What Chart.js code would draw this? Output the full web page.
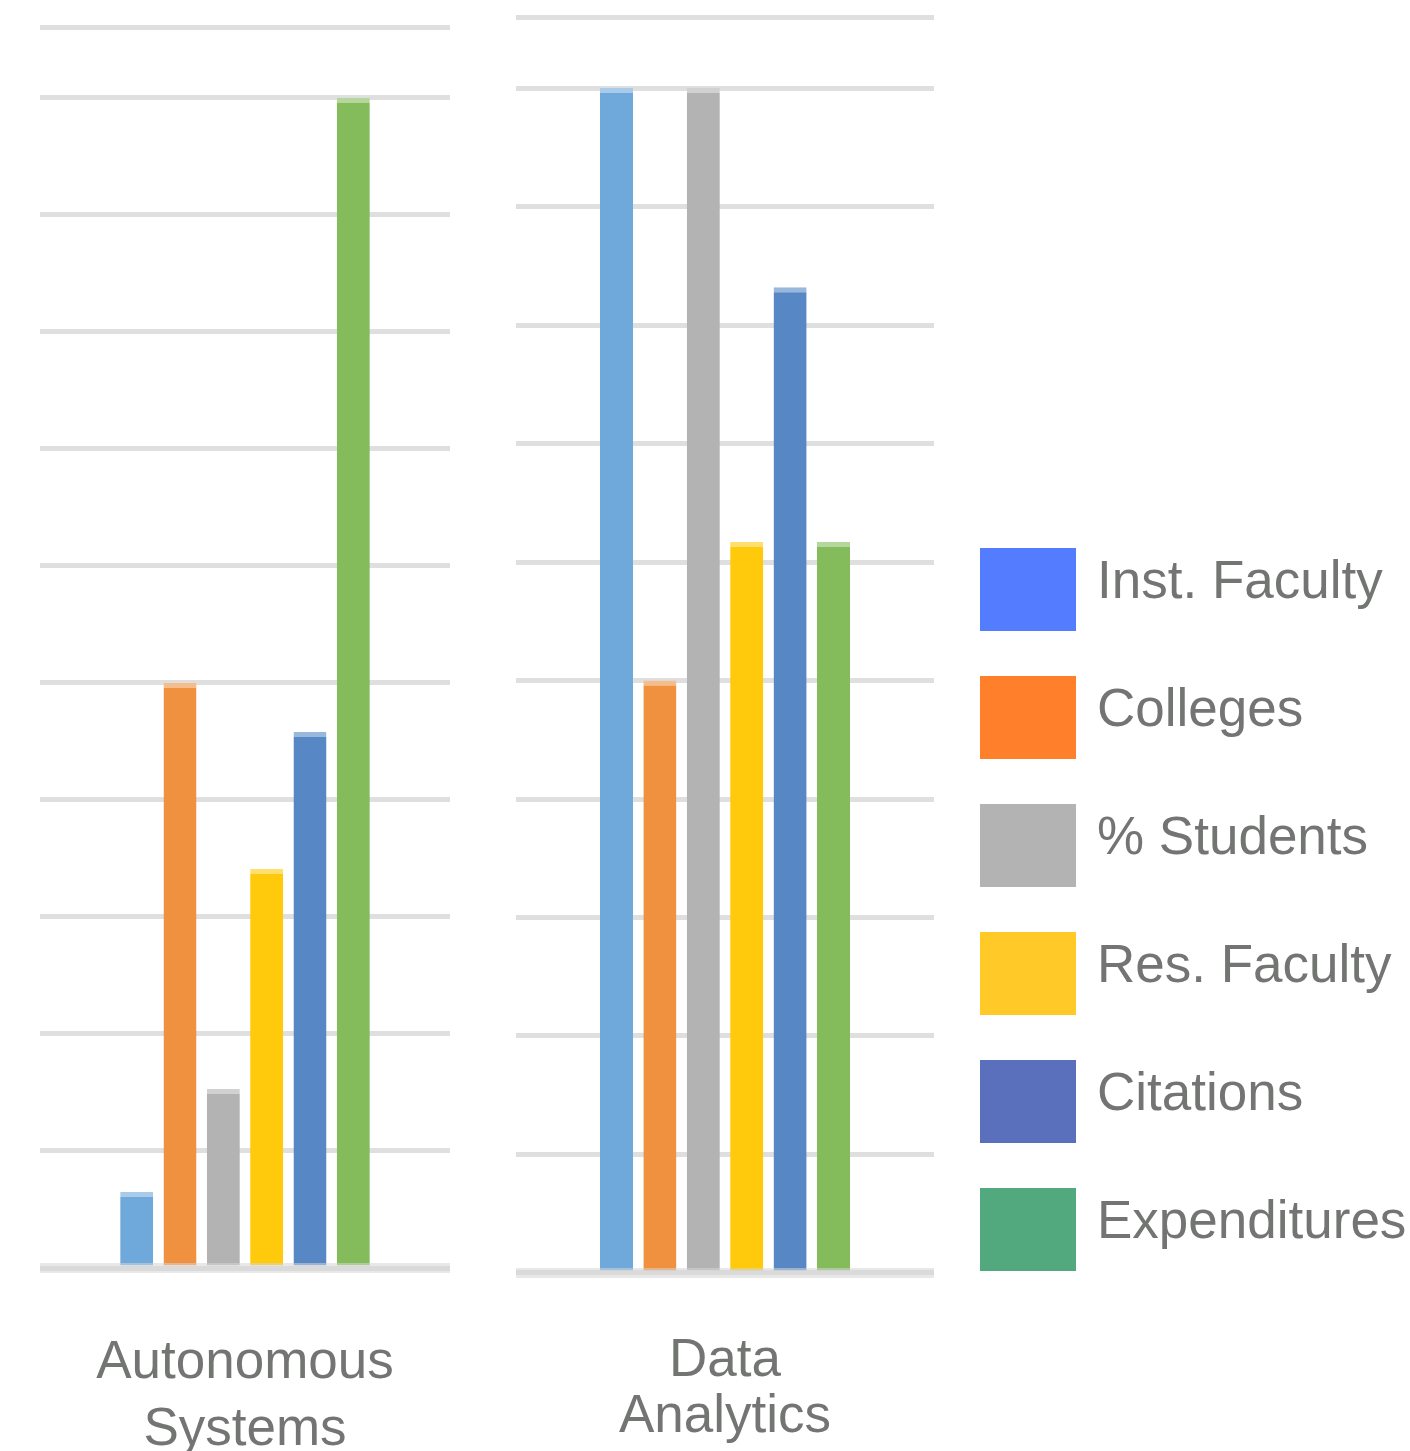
<!DOCTYPE html>
<html>
<head>
<meta charset="utf-8">
<script src="https://cdn.jsdelivr.net/npm/chart.js@4.4.1/dist/chart.umd.min.js"></script>
<style>
  html, body { margin: 0; padding: 0; background: #ffffff; overflow: hidden; width: 1410px; height: 1451px; }
  .panel { position: absolute; top: 0; }
  #left  { left: 40px;  width: 410px; height: 1526px; }
  #right { left: 516px; width: 418px; height: 1505px; }
  #legend { position: absolute; left: 980px; top: 548px; margin: 0; padding: 0; list-style: none;
            font-family: 'Liberation Sans', Arial, sans-serif; }
  #legend li { display: flex; align-items: center; height: 83px; margin-bottom: 45px; }
  #legend .box { display: block; width: 96px; height: 83px; }
  #legend .txt { margin-left: 21px; font-size: 53px; line-height: 1; color: #737573;
                 white-space: nowrap; transform: translateY(-10px); }
</style>
</head>
<body>
<div class="panel" id="left"><canvas id="chartAutonomous"></canvas></div>
<div class="panel" id="right"><canvas id="chartAnalytics"></canvas></div>
<ul id="legend"></ul>
<script>
// Series shown in each research area
const seriesNames = ['Inst. Faculty', 'Colleges', '% Students', 'Res. Faculty', 'Citations', 'Expenditures'];

// Scores per research area (same order as seriesNames)
const autonomousSystems = [0.65, 5.0, 1.53, 3.41, 4.58, 10.0];
const dataAnalytics     = [10.0, 5.0, 10.0, 6.17, 8.32, 6.17];

// Category labels (two lines each)
const labelAutonomous = [['Autonomous', 'Systems']];
const labelAnalytics  = [['Data', 'Analytics']];

// Value axis
const yMin = 0;
const yMax = 10.6;
const yStep = 1;

// Bar fills and legend swatches
const barColors    = ['#6FA9DC', '#F0913F', '#B3B3B3', '#FFC90C', '#5788C5', '#84BB5B'];
const legendColors = ['#537CFF', '#FF7F2A', '#B3B3B3', '#FFC928', '#5A70BC', '#52A97D'];

const FONT = "'Liberation Sans', Arial, sans-serif";
const TEXT = '#737573';

// lighter cap colour on top of each bar
function lighten(hex, amt) {
  const n = parseInt(hex.slice(1), 16);
  const r = (n >> 16) & 255, g = (n >> 8) & 255, b = n & 255;
  const f = c => Math.round(c + (255 - c) * amt);
  return `rgb(${f(r)},${f(g)},${f(b)})`;
}

// Legend rendered as an HTML list from the chart's own legend items
const htmlLegend = {
  id: 'htmlLegend',
  afterUpdate(chart, args, options) {
    const ul = document.getElementById(options.containerID);
    if (!ul) return;
    ul.innerHTML = '';
    const items = chart.options.plugins.legend.labels.generateLabels(chart);
    items.forEach(item => {
      const li = document.createElement('li');
      const box = document.createElement('span');
      box.className = 'box';
      box.style.background = item.fillStyle;
      const txt = document.createElement('span');
      txt.className = 'txt';
      txt.textContent = item.text;
      li.appendChild(box);
      li.appendChild(txt);
      ul.appendChild(li);
    });
  }
};

function makeChart(id, labels, values, cfg) {
  const datasets = seriesNames.map((name, i) => ({
    label: name,
    data: [values[i]],
    backgroundColor: barColors[i],
    borderColor: lighten(barColors[i], 0.4),
    borderWidth: { top: 5, left: 0, right: 0, bottom: 0 },
    borderSkipped: 'bottom',
    categoryPercentage: cfg.categoryPercentage,
    barPercentage: 0.762
  }));

  return new Chart(document.getElementById(id), {
    type: 'bar',
    data: { labels: labels, datasets: datasets },
    options: {
      responsive: true,
      maintainAspectRatio: false,
      animation: false,
      layout: { padding: { top: cfg.padTop, left: 0, right: 0, bottom: 0 } },
      scales: {
        x: {
          grid: { display: false, drawTicks: false },
          border: { display: true, color: 'rgba(214,214,214,0.55)', width: 10, z: 1 },
          ticks: {
            color: TEXT,
            padding: cfg.labelPadding,
            maxRotation: 0,
            font: { family: FONT, size: 53, lineHeight: cfg.lineHeight }
          },
          // labels fit well inside the panel; keep the plot full width
          afterFit(scale) {
            scale.paddingLeft = 0;
            scale.paddingRight = 0;
          }
        },
        y: {
          min: yMin,
          max: yMax,
          ticks: { display: false, stepSize: yStep },
          grid: { color: '#DFDFDF', lineWidth: 5, drawTicks: false },
          border: { display: false }
        }
      },
      plugins: {
        legend: {
          display: false,
          labels: {
            generateLabels: chart => chart.data.datasets.map((ds, i) => ({
              text: ds.label,
              fillStyle: legendColors[i],
              strokeStyle: legendColors[i],
              lineWidth: 0,
              hidden: false,
              datasetIndex: i
            }))
          }
        },
        tooltip: { enabled: false },
        htmlLegend: { containerID: cfg.legendId }
      }
    },
    plugins: cfg.legendId ? [htmlLegend] : []
  });
}

makeChart('chartAutonomous', labelAutonomous, autonomousSystems,
  { categoryPercentage: 0.634, padTop: 27.5, labelPadding: 62, lineHeight: 1.264, legendId: null });

makeChart('chartAnalytics', labelAnalytics, dataAnalytics,
  { categoryPercentage: 0.623, padTop: 17, labelPadding: 60, lineHeight: 1.057, legendId: 'legend' });
</script>
</body>
</html>
